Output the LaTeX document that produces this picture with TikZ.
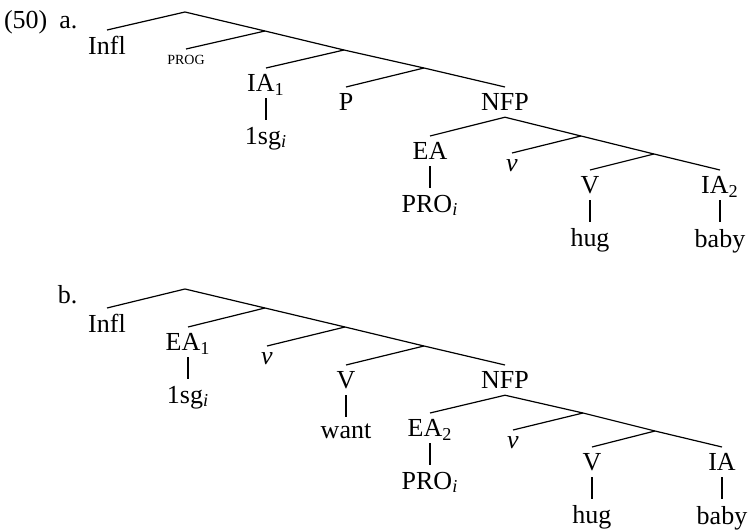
\documentclass[tikz,border=0pt]{standalone}
\usepackage{fontspec}
\setmainfont{Liberation Serif}
\usetikzlibrary{positioning}
\tikzset{
  cat/.style={anchor=north,inner sep=3pt,text depth=0pt},
  smallcat/.style={cat,font=\fontsize{7}{8}\selectfont}
}
\newcommand{\idx}[1]{\textsubscript{\textit{#1}}}

\begin{document}
\begin{tikzpicture}[x=0.5pt,y=-0.5pt,node distance=11pt,line width=0.6pt,
                    font=\fontsize{13}{15.6}\selectfont]
\useasboundingbox (0,0) rectangle (752,530);
% (50a)
\node[anchor=base east,inner sep=0pt] (numa) at (78,28) {(50)\hspace{6pt}a.};
\coordinate (a0) at (185,12);
\coordinate (a1) at (265,31);
\coordinate (a2) at (344,50);
\coordinate (a3) at (424,68);
\node[cat] (ainfl) at (107,30) {Infl};
\node[smallcat] (aprog) at (186,49) {PROG};
\node[cat] (aia) at (266,68) {IA\textsubscript{1}};
\node[cat] (ap) at (346,87) {P};
\node[cat] (anfp) at (505,87) {NFP};
\coordinate (an1) at (581,136);
\coordinate (an2) at (654,154);
\node[cat] (aea) at (430,136) {EA};
\node[cat] (av) at (512,153) {\textit{v}};
\node[cat] (aV) at (590,170) {V};
\node[cat] (aia2) at (720,170) {IA\textsubscript{2}};
\node[cat,below=of aia] (asg) {1sg\idx{i}};
\node[cat,below=of aea] (apro) {PRO\idx{i}};
\node[cat,below=of aV] (ahug) {hug};
\node[cat,below=of aia2] (ababy) {baby};
\draw (ainfl.north) -- (a0) -- (a1) -- (a2) -- (a3) -- (anfp.north);
\draw (a1) -- (aprog.north);
\draw (a2) -- (aia.north);
\draw (a3) -- (ap.north);
\draw (aea.north) -- (anfp.south) -- (an1) -- (an2) -- (aia2.north);
\draw (an1) -- (av.north);
\draw (an2) -- (aV.north);
\draw (aia) -- (asg);
\draw (aea) -- (apro);
\draw (aV) -- (ahug);
\draw (aia2) -- (ababy);
% (50b)
\node[anchor=base east,inner sep=0pt] (numb) at (78,304) {b.};
\coordinate (b0) at (185,289);
\coordinate (b1) at (265,308);
\coordinate (b2) at (345,327);
\coordinate (b3) at (424,346);
\node[cat] (binfl) at (107,308) {Infl};
\node[cat] (bea) at (188,327) {EA\textsubscript{1}};
\node[cat] (bv) at (267,346) {\textit{v}};
\node[cat] (bV) at (346,365) {V};
\node[cat] (bnfp) at (505,365) {NFP};
\coordinate (bn1) at (583,413);
\coordinate (bn2) at (655,431);
\node[cat] (bea2) at (430,413) {EA\textsubscript{2}};
\node[cat] (bv2) at (513,430) {\textit{v}};
\node[cat] (bV2) at (592,447) {V};
\node[cat] (bia) at (722,447) {IA};
\node[cat,below=of bea] (bsg) {1sg\idx{i}};
\node[cat,below=of bV] (bwant) {want};
\node[cat,below=of bea2] (bpro) {PRO\idx{i}};
\node[cat,below=of bV2] (bhug) {hug};
\node[cat,below=of bia] (bbaby) {baby};
\draw (binfl.north) -- (b0) -- (b1) -- (b2) -- (b3) -- (bnfp.north);
\draw (b1) -- (bea.north);
\draw (b2) -- (bv.north);
\draw (b3) -- (bV.north);
\draw (bea2.north) -- (bnfp.south) -- (bn1) -- (bn2) -- (bia.north);
\draw (bn1) -- (bv2.north);
\draw (bn2) -- (bV2.north);
\draw (bea) -- (bsg);
\draw (bV) -- (bwant);
\draw (bea2) -- (bpro);
\draw (bV2) -- (bhug);
\draw (bia) -- (bbaby);
\end{tikzpicture}
\end{document}
